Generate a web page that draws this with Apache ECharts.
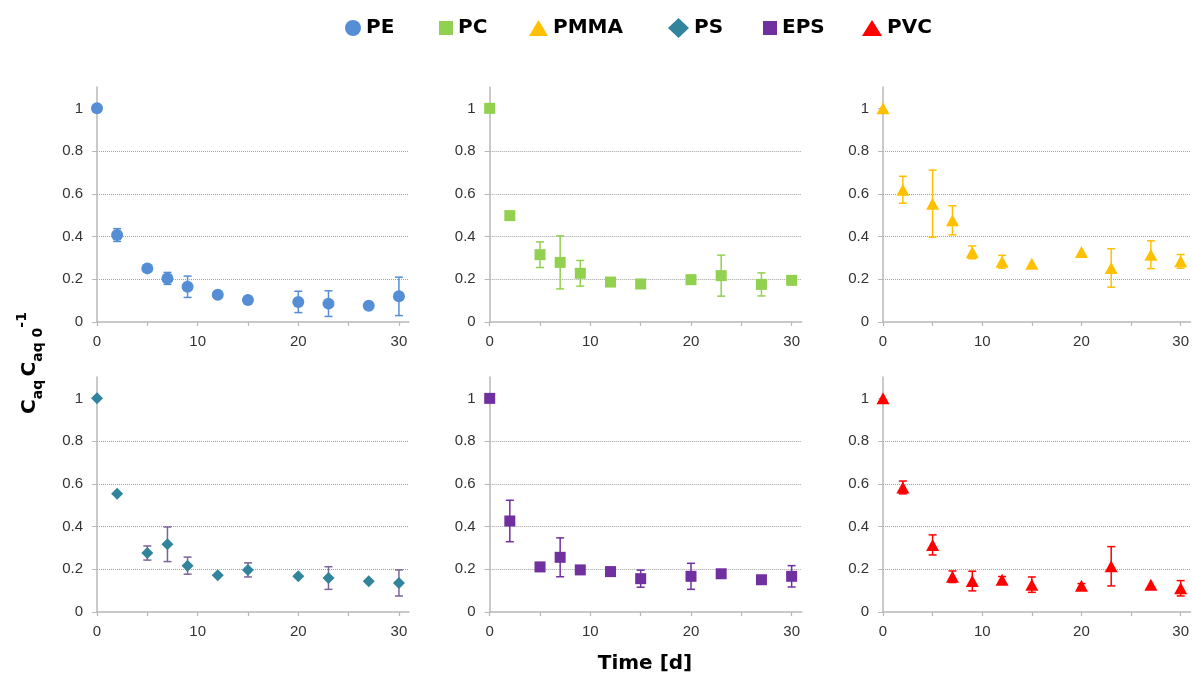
<!DOCTYPE html>
<html><head><meta charset="utf-8">
<script src="https://cdn.jsdelivr.net/npm/echarts@6/dist/echarts.min.js"></script>
<style>html,body{margin:0;padding:0;background:#fff}#c{width:1192px;height:679px}</style>
</head><body><div id="c"></div>
<script>
// ---- data ----
const days = [0, 2, 5, 7, 9, 12, 15, 20, 23, 27, 30];
const materials = ['PE', 'PC', 'PMMA', 'PS', 'EPS', 'PVC'];

const peMean   = [1.00, 0.407, 0.251, 0.204, 0.165, 0.128, 0.103, 0.094, 0.086, 0.076, 0.120];
const peErr    = [0,    0.030, 0,     0.028, 0.050, 0,     0,     0.050, 0.060, 0,     0.090];
const pcMean   = [1.00, 0.498, 0.315, 0.279, 0.228, 0.187, 0.178, 0.198, 0.217, 0.176, 0.195];
const pcErr    = [0,    0,     0.060, 0.124, 0.060, 0.020, 0,     0.020, 0.096, 0.054, 0];
const pmmaMean = [1.00, 0.619, 0.554, 0.476, 0.326, 0.282, 0.273, 0.328, 0.253, 0.315, 0.284];
const pmmaErr  = [0,    0.063, 0.157, 0.068, 0.030, 0.030, 0,     0,     0.090, 0.065, 0.032];
const psMean   = [1.00, 0.554, 0.276, 0.317, 0.217, 0.172, 0.197, 0.167, 0.159, 0.144, 0.136];
const psErr    = [0,    0,     0.033, 0.081, 0.040, 0,     0.033, 0,     0.053, 0,     0.061];
const epsMean  = [1.00, 0.426, 0.211, 0.256, 0.197, 0.189, 0.156, 0.167, 0.179, 0.151, 0.167];
const epsErr   = [0,    0.097, 0.020, 0.091, 0,     0.020, 0.040, 0.061, 0,     0.018, 0.050];
const pvcMean  = [1.00, 0.583, 0.314, 0.165, 0.145, 0.151, 0.128, 0.123, 0.214, 0.128, 0.111];
const pvcErr   = [0,    0.030, 0.047, 0.027, 0.046, 0.015, 0.036, 0.010, 0.092, 0,     0.036];

const xTickValues  = [0, 5, 10, 15, 20, 25, 30];
const xLabelValues = [0, 10, 20, 30];
const yTickValues  = [0, 0.2, 0.4, 0.6, 0.8, 1];

const means = [peMean, pcMean, pmmaMean, psMean, epsMean, pvcMean];
const errs  = [peErr, pcErr, pmmaErr, psErr, epsErr, pvcErr];

// ---- styles ----
const styles = [
  {color: '#558ED5', err: '#558ED5', symbol: 'circle',   size: 12,       leg: [16, 16], left: 345},
  {color: '#92D050', err: '#92D050', symbol: 'rect',     size: 11,       leg: [14, 14], left: 439},
  {color: '#FFC000', err: '#FFC000', symbol: 'triangle', size: [13, 12], leg: [19, 16], left: 529},
  {color: '#31849B', err: '#7B6496', symbol: 'diamond',  size: 12,       leg: [21, 20], left: 668},
  {color: '#7030A0', err: '#7030A0', symbol: 'rect',     size: 11,       leg: [14, 14], left: 763},
  {color: '#FF0000', err: '#FF0000', symbol: 'triangle', size: [13, 12], leg: [20, 16], left: 862}
];
const panelLefts = [97, 489.7, 883];
const panelTops = [87, 377];
const gridW = 312, gridH = 235;
const legendCenterY = 28;

const grids = [], xAxes = [], yAxes = [], series = [], legends = [];
const axisColor = '#b8b8b8';
const labelStyle = {color: '#333', fontSize: 15, fontFamily: 'Liberation Sans'};

materials.forEach((name, i) => {
  const st = styles[i];
  grids.push({left: panelLefts[i % 3], top: panelTops[Math.floor(i / 3)], width: gridW, height: gridH});
  xAxes.push({
    type: 'value', gridIndex: i, min: 0, max: 31, interval: 5,
    axisLine: {show: true, lineStyle: {color: axisColor, width: 1.5}},
    axisTick: {show: true, length: 4, customValues: xTickValues, lineStyle: {color: axisColor, width: 1.2}},
    axisLabel: Object.assign({customValues: xLabelValues, margin: 12}, labelStyle),
    splitLine: {show: false}
  });
  yAxes.push({
    type: 'value', gridIndex: i, min: 0, max: 1.1, interval: 0.2,
    axisLine: {show: true, lineStyle: {color: axisColor, width: 1.5}},
    axisTick: {show: true, length: 5, customValues: yTickValues, lineStyle: {color: axisColor, width: 1}},
    axisLabel: Object.assign({customValues: yTickValues, margin: 14}, labelStyle),
    splitLine: {show: true, showMinLine: false, showMaxLine: false, lineStyle: {color: '#a0a0a0', type: 'dotted', width: 1}}
  });
  const m = means[i], e = errs[i];
  series.push({
    name: name + ' err', type: 'custom', xAxisIndex: i, yAxisIndex: i, z: 2, silent: true,
    encode: {x: 0, y: [1, 2]},
    data: days.map((d, k) => [d, m[k] - e[k], m[k] + e[k], e[k]]),
    renderItem: function (params, api) {
      const ev = api.value(3);
      if (!(ev > 0)) return;
      const x = api.value(0);
      const lo = api.coord([x, api.value(1)]);
      const hi = api.coord([x, api.value(2)]);
      const h = 4;
      const s = {stroke: st.err, lineWidth: 1.5};
      return {type: 'group', children: [
        {type: 'line', shape: {x1: lo[0], y1: lo[1], x2: hi[0], y2: hi[1]}, style: s},
        {type: 'line', shape: {x1: lo[0] - h, y1: lo[1], x2: lo[0] + h, y2: lo[1]}, style: s},
        {type: 'line', shape: {x1: hi[0] - h, y1: hi[1], x2: hi[0] + h, y2: hi[1]}, style: s}
      ]};
    }
  });
  series.push({
    name: name, type: 'scatter', xAxisIndex: i, yAxisIndex: i, z: 3,
    symbol: st.symbol, symbolSize: st.size,
    itemStyle: {color: st.color, opacity: 1},
    data: days.map((d, k) => [d, m[k]])
  });
  legends.push({
    data: [name], left: st.left, top: legendCenterY - Math.max(st.leg[1], 20) / 2, padding: 0,
    itemWidth: st.leg[0], itemHeight: st.leg[1], selectedMode: false,
    textStyle: {fontFamily: 'DejaVu Sans', fontWeight: 'bold', fontSize: 20, color: '#000'}
  });
});

const chart = echarts.init(document.getElementById('c'), null, {renderer: 'canvas'});
chart.setOption({
  animation: false,
  backgroundColor: '#fff',
  grid: grids, xAxis: xAxes, yAxis: yAxes, series: series, legend: legends,
  graphic: [
    {
      type: 'text', x: 30, y: 363, rotation: Math.PI / 2,
      style: {
        text: '{c|C}{sub|aq} {c|C}{sub|aq 0}{sup|-1}',
        align: 'center', verticalAlign: 'middle',
        rich: {
          c:   {fontFamily: 'DejaVu Sans', fontWeight: 'bold', fontSize: 20, lineHeight: 30, fill: '#000', verticalAlign: 'middle'},
          sub: {fontFamily: 'DejaVu Sans', fontWeight: 'bold', fontSize: 14, lineHeight: 16, fill: '#000', verticalAlign: 'bottom'},
          sup: {fontFamily: 'DejaVu Sans', fontWeight: 'bold', fontSize: 14, lineHeight: 18, fill: '#000', verticalAlign: 'top'}
        }
      }
    },
    {
      type: 'text', x: 645, y: 664,
      style: {text: 'Time [d]', align: 'center', verticalAlign: 'middle',
        fontFamily: 'DejaVu Sans', fontWeight: 'bold', fontSize: 20, fill: '#000'}
    }
  ]
});
</script>
</body></html>
